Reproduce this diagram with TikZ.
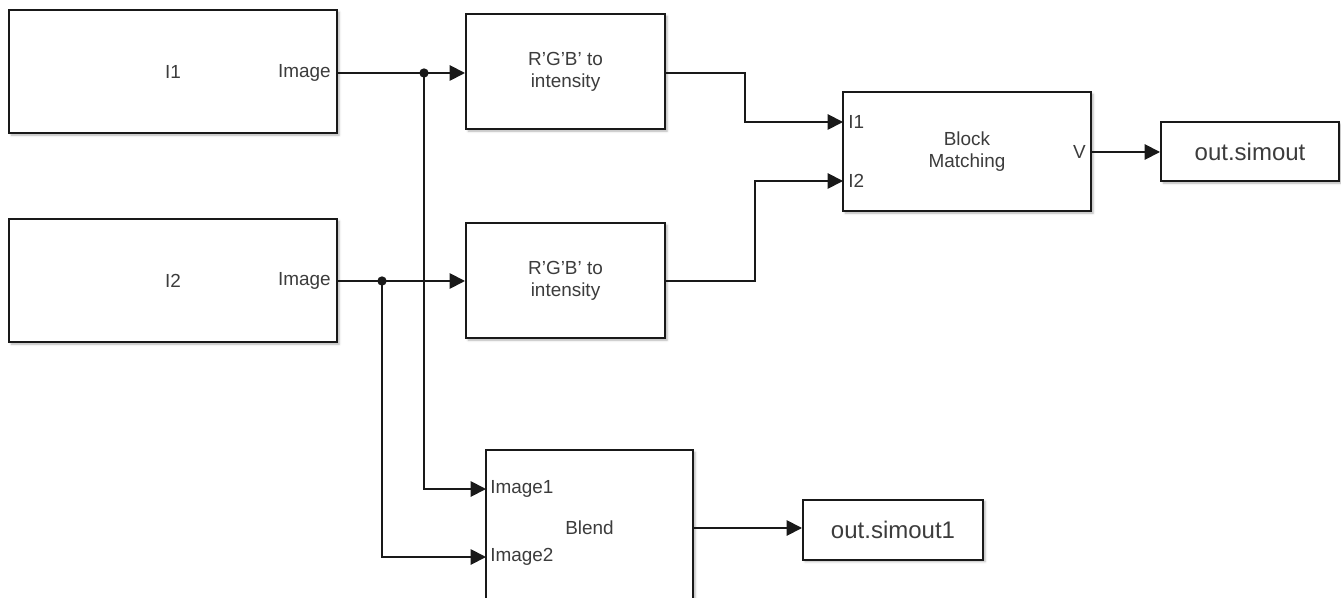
\documentclass[tikz,border=0pt]{standalone}
\usepackage{fontspec}
\setmainfont{Liberation Sans}
\usetikzlibrary{arrows.meta,positioning,calc,shadows.blur}
\definecolor{slborder}{RGB}{25,25,25}
\definecolor{sltext}{RGB}{60,60,60}
\tikzset{
  blk/.style={draw=slborder,fill=white,line width=1.5pt,inner sep=0pt,
              blur shadow={shadow xshift=1.6pt,shadow yshift=-1.6pt,shadow blur radius=1.6pt,shadow opacity=30},
              font=\fontsize{14.2}{16.5}\selectfont,text=sltext,align=center},
  sink/.style={blk,font=\fontsize{18}{20}\selectfont},
  port/.style={font=\fontsize{14.2}{16.5}\selectfont,text=sltext,inner sep=0pt},
  wire/.style={draw=slborder,line width=1.4pt,-{Triangle[length=11.5pt,width=11.5pt]}},
  junc/.style={circle,fill=slborder,minimum size=7pt,inner sep=0pt}
}
\begin{document}
\begin{tikzpicture}[x=0.75pt,y=-0.75pt]
  \useasboundingbox (0,0) rectangle (1341,598);
  \begin{scope}
  \clip (0,0) rectangle (1341,598);
  % Sources
  \node[blk,minimum width=246pt,minimum height=92.25pt] (img1) at (173,71.5) {I1};
  \node[blk,minimum width=246pt,minimum height=92.25pt] (img2) at (173,280.5) {I2};
  \node[port,anchor=east] (img1out) at (331,73) {Image};
  \node[port,anchor=east] (img2out) at (331,281) {Image};

  % Colour conversion
  \node[blk,minimum width=149.25pt,minimum height=86.25pt] (rgb1) at (565.5,71.5) {R'G'B' to\\intensity};
  \node[blk,minimum width=149.25pt,minimum height=86.25pt] (rgb2) at (565.5,280.5) {R'G'B' to\\intensity};

  % Block matching and its sink
  \node[blk,minimum width=186pt,minimum height=89.25pt] (bm) at (967,151.5) {Block\\Matching};
  \node[port,anchor=west] (bmlab1) at (848,122) {I1};
  \node[port,anchor=west] (bmlab2) at (848,181) {I2};
  \node[port,anchor=east] (bmlabv) at (1086,152) {V};
  \node[sink,minimum width=133.5pt,minimum height=44.25pt] (out1) at (1250,151.5) {out.simout};

  % Blend and its sink
  \node[blk,minimum width=155.25pt,minimum height=117pt] (blend) at (589.5,528) {Blend};
  \node[port,anchor=west] (blab1) at (490,489) {Image1};
  \node[port,anchor=west] (blab2) at (490,557) {Image2};
  \node[sink,minimum width=135pt,minimum height=45pt] (out2) at (893,529.5) {out.simout1};
  \end{scope}

  % Ports
  \coordinate (bmin1) at (843,122);
  \coordinate (bmin2) at (843,181);
  \coordinate (bmout) at (1091,152);
  \coordinate (blin1) at (486,489);
  \coordinate (blin2) at (486,557);
  \coordinate (blout) at (693,528);
  \node[junc] (j1) at (424,73) {};
  \node[junc] (j2) at (382,281) {};

  % Signals
  \draw[wire] (img1.east |- j1) -- (rgb1.west |- j1);
  \draw[wire] (img2.east |- j2) -- (rgb2.west |- j2);
  \draw[wire] (j1.center) |- (blin1);
  \draw[wire] (j2.center) |- (blin2);
  \draw[wire] (rgb1.east |- j1) -- ++(79,0) |- (bmin1);
  \draw[wire] (rgb2.east |- j2) -- ++(89,0) |- (bmin2);
  \draw[wire] (bmout) -- (out1.west |- bmout);
  \draw[wire] (blout) -- (out2.west |- blout);
\end{tikzpicture}
\end{document}
